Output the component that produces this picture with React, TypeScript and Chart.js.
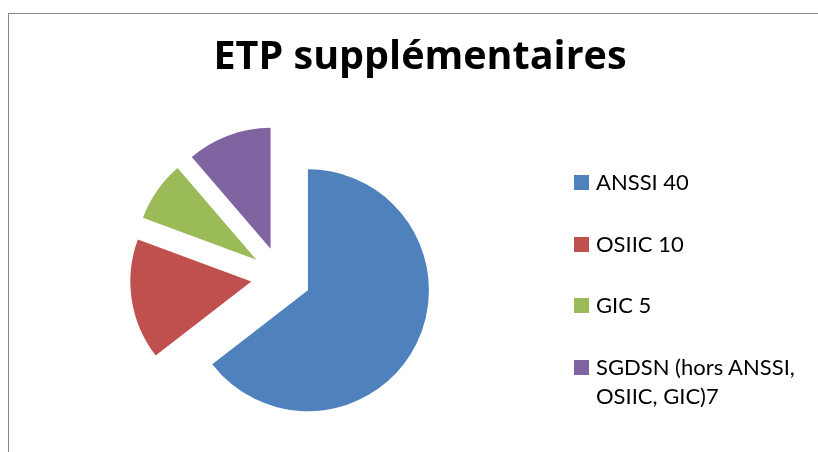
import React, { useEffect, useRef } from 'react';
import { Chart, registerables } from 'chart.js';

Chart.register(...registerables);

const TITLE = 'ETP supplémentaires';
const CATEGORIES = ['ANSSI 40', 'OSIIC 10', 'GIC 5', 'SGDSN (hors ANSSI,\nOSIIC, GIC)7'];
const VALUES = [40, 10, 5, 7];
const COLORS = ['#4F81BD', '#C0504D', '#9BBB59', '#8064A2'];

const FONT = 'Lato, "Open Sans", sans-serif';
const TITLE_FONT = '"Open Sans", Lato, sans-serif';

// Draws each slice pushed out along its mid angle (Excel "exploded" pie)
const explodePlugin = {
  id: 'explode',
  beforeDatasetDraw(chart: any, args: any, opts: any) {
    const ctx = chart.ctx;
    const d = opts.distance || 0;
    args.meta.data.forEach((arc: any) => {
      const { startAngle, endAngle } = arc.getProps(['startAngle', 'endAngle'], true);
      const mid = (startAngle + endAngle) / 2;
      ctx.save();
      ctx.translate(Math.cos(mid) * d, Math.sin(mid) * d);
      arc.draw(ctx, chart.chartArea);
      ctx.restore();
    });
    return false;
  },
};

// Reserves room on the right of the plot for the HTML legend
const legendReservePlugin = {
  id: 'legendReserve',
  afterLayout(chart: any, _args: any, opts: any) {
    const a = chart.chartArea;
    a.right -= opts.width || 0;
    a.width = a.right - a.left;
  },
};

export default function App() {
  const ref = useRef<HTMLCanvasElement>(null);

  useEffect(() => {
    const chart = new Chart(ref.current as HTMLCanvasElement, {
      type: 'pie',
      data: {
        labels: CATEGORIES,
        datasets: [
          {
            data: VALUES,
            backgroundColor: COLORS,
            borderWidth: 0,
            offset: 0,
            hoverOffset: 0,
          },
        ],
      },
      options: {
        responsive: false,
        animation: false,
        events: [],
        layout: { padding: { left: 22, right: 0, top: 0, bottom: 54 } },
        plugins: {
          legend: { display: false },
          tooltip: { enabled: false },
          title: {
            display: true,
            text: TITLE,
            color: '#000000',
            font: { family: TITLE_FONT, size: 39.5, weight: 'bold', lineHeight: 1.2 },
            padding: { top: 34.2, bottom: 74.4 },
          },
          explode: { distance: 30 },
          legendReserve: { width: 278 },
        } as any,
      },
      plugins: [explodePlugin, legendReservePlugin],
    });
    return () => chart.destroy();
  }, []);

  return (
    <div
      style={{
        position: 'fixed',
        left: 0,
        top: 0,
        width: 818,
        height: 452,
        overflow: 'hidden',
        background: '#ffffff',
      }}
    >
      <div
        style={{
          position: 'absolute',
          left: 8,
          top: 13,
          width: 900,
          height: 600,
          border: '1px solid #868686',
          boxSizing: 'border-box',
        }}
      />
      <canvas
        ref={ref}
        width={818}
        height={452}
        style={{ position: 'absolute', left: 0, top: 0, width: 818, height: 452 }}
      />
      <div
        style={{
          position: 'absolute',
          left: 574,
          top: 167,
          fontFamily: FONT,
          fontSize: 22,
          lineHeight: '29px',
          color: '#000',
          display: 'flex',
          flexDirection: 'column',
          gap: 32.7,
        }}
      >
        {CATEGORIES.map((c, i) => (
          <div key={c} style={{ display: 'flex', alignItems: 'flex-start' }}>
            <span
              style={{
                display: 'inline-block',
                width: 15,
                height: 15,
                marginTop: 8,
                marginRight: 7,
                background: COLORS[i],
                flex: 'none',
              }}
            />
            <span style={{ whiteSpace: 'pre-line' }}>{c}</span>
          </div>
        ))}
      </div>
    </div>
  );
}
